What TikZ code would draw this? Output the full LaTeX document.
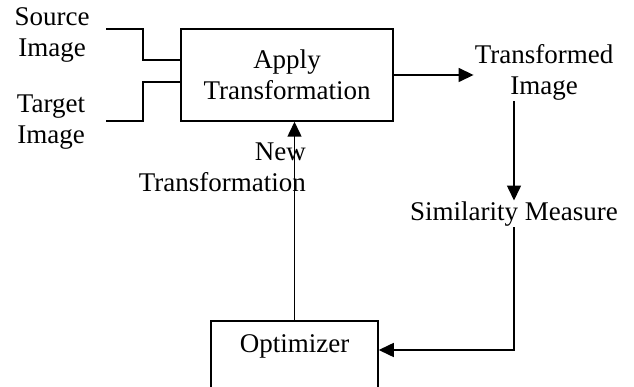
\documentclass[tikz,border=0pt]{standalone}
\usepackage{fontspec}
\setmainfont{Liberation Serif}
\usetikzlibrary{arrows.meta}

\begin{document}
\begin{tikzpicture}[x=1pt,y=-1pt,
  font=\fontsize{27}{31}\selectfont,
  box/.style={draw,line width=1.5pt,inner sep=0pt},
  wire/.style={line width=1.5pt},
  arr/.style={wire,-{Triangle[length=15pt,width=14pt]}}]

\useasboundingbox (0,0) rectangle (634,387);
\clip (0,0) rectangle (634,387);

% Blocks
\node[box,minimum width=212pt,minimum height=92pt,align=center] (apply) at (287,75) {Apply\\Transformation};
\node[box,minimum width=167pt,minimum height=80pt] (opt) at (294.5,361) {};
\node (optlbl) at (294.5,346) {Optimizer};

% Labels
\node[align=center,inner sep=1pt] (src) at (52,35) {Source\\Image};
\node[align=center,inner sep=1pt] (tgt) at (51,122) {Target\\Image};
\node[align=center,inner sep=1pt] (tr) at (544,72) {Transformed\\Image};
\node[inner sep=1pt] (sim) at (514,214) {Similarity Measure};
\node[align=right,inner sep=0pt,anchor=east] (newtr) at (306,167) {New\\Transformation};

% Inputs
\coordinate (srcend) at (106,29);
\coordinate (tgtend) at (106,121);
\draw[wire] (srcend) -- ++(37,0) |- ([yshift=15pt]apply.west);
\draw[wire] (tgtend) -- ++(37,0) |- ([yshift=-7pt]apply.west);

% Arrows
\draw[arr] (apply.east) -- (tr.west |- apply.east);
\draw[arr] (tr.south -| sim.north) -- (sim.north);
\draw[arr] (sim.south) |- ([yshift=11pt]opt.east);
\draw[arr] (opt.north) -- (opt.north |- apply.south);

\end{tikzpicture}
\end{document}
